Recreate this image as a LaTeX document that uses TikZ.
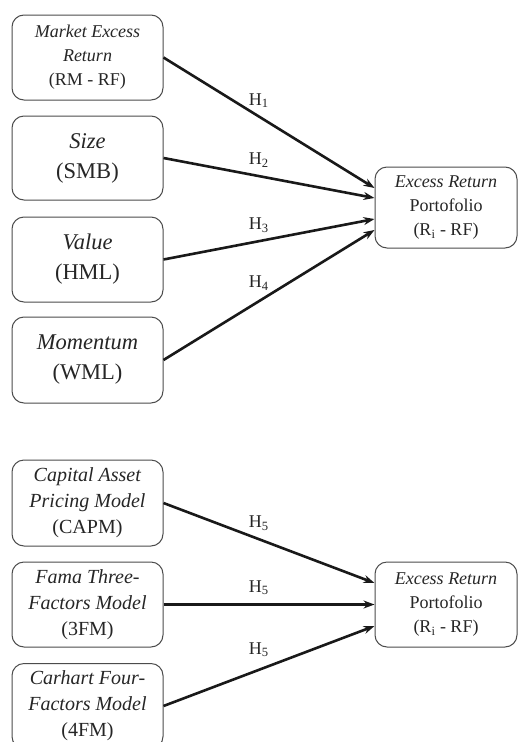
\documentclass[tikz,border=0pt]{standalone}
\usepackage{fontspec}
\setmainfont{Liberation Serif}
\usetikzlibrary{arrows.meta}
\tikzset{
  box/.style={draw=black!70, line width=1pt, rounded corners=12pt, align=center,
    text=black!85, inner sep=0pt},
  leftbox/.style={box, minimum width=151pt, minimum height=85pt},
  rightbox/.style={box, minimum width=142pt, minimum height=83pt},
  link/.style={line width=2.6pt, black!90, -{Stealth[length=11pt,width=8pt]}},
  hlab/.style={font=\fontsize{18}{20}\selectfont, text=black!85},
}
\begin{document}
\begin{tikzpicture}[x=1pt,y=-1pt]
\clip (0,0) rectangle (518,742);
\fill[white] (0,0) rectangle (518,742);
% top group
\node[leftbox, font=\fontsize{18}{24}\selectfont] (mkt) at (87.5,57.5) {\textit{Market Excess}\\\textit{Return}\\(RM - RF)};
\node[leftbox, minimum height=84pt, font=\fontsize{22.5}{30}\selectfont] (size) at (87.5,158) {\textit{Size}\\(SMB)};
\node[leftbox, font=\fontsize{22.5}{30}\selectfont] (val) at (87.5,259.5) {\textit{Value}\\(HML)};
\node[leftbox, minimum height=86pt, font=\fontsize{22.5}{30}\selectfont] (mom) at (87.5,360) {\textit{Momentum}\\(WML)};
\node[rightbox, minimum height=81pt, font=\fontsize{18}{24}\selectfont] (ret1) at (446,207.5) {\textit{Excess Return}\\Portofolio\\(R\textsubscript{i} - RF)};
\draw[link] (mkt.east) -- node[pos=0.452, yshift=16pt, hlab] (h1) {H\textsubscript{1}} ([yshift=19.5pt]ret1.west);
\draw[link] (size.east) -- node[pos=0.452, yshift=16pt, hlab] (h2) {H\textsubscript{2}} ([yshift=9.5pt]ret1.west);
\draw[link] (val.east) -- node[pos=0.452, yshift=16pt, hlab] (h3) {H\textsubscript{3}} ([yshift=-11.5pt]ret1.west);
\draw[link] (mom.east) -- node[pos=0.452, yshift=18pt, hlab] (h4) {H\textsubscript{4}} ([yshift=-22.5pt]ret1.west);
% bottom group
\node[leftbox, minimum height=86pt, font=\fontsize{20}{26}\selectfont] (capm) at (87.5,503) {\textit{Capital Asset}\\\textit{Pricing Model}\\(CAPM)};
\node[leftbox, font=\fontsize{20}{26}\selectfont] (tfm) at (87.5,604.5) {\textit{Fama Three-}\\\textit{Factors Model}\\(3FM)};
\node[leftbox, font=\fontsize{20}{26}\selectfont] (ffm) at (87.5,706) {\textit{Carhart Four-}\\\textit{Factors Model}\\(4FM)};
\node[rightbox, minimum height=85pt, font=\fontsize{18}{24}\selectfont] (ret2) at (446,604.5) {\textit{Excess Return}\\Portofolio\\(R\textsubscript{i} - RF)};
\draw[link] (capm.east) -- node[pos=0.452, yshift=16pt, hlab] (h5a) {H\textsubscript{5}} ([yshift=21.5pt]ret2.west);
\draw[link] (tfm.east) -- node[pos=0.452, yshift=17pt, hlab] (h5b) {H\textsubscript{5}} (ret2.west);
\draw[link] (ffm.east) -- node[pos=0.452, yshift=20pt, hlab] (h5c) {H\textsubscript{5}} ([yshift=-21.5pt]ret2.west);
\end{tikzpicture}
\end{document}
